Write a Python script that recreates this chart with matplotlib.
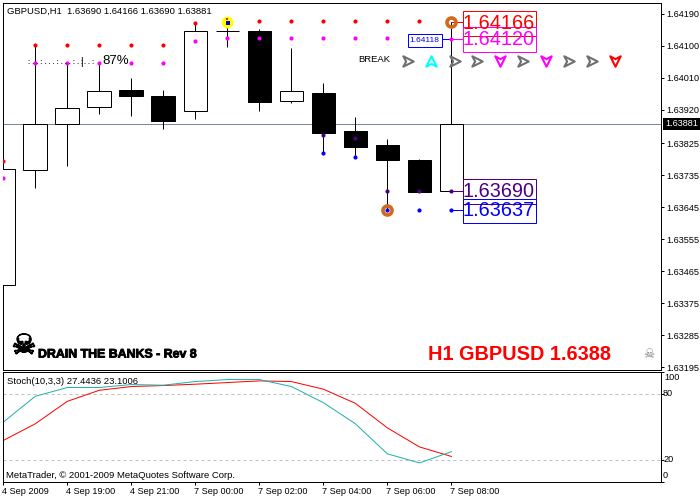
import matplotlib
matplotlib.use("Agg")
import matplotlib.pyplot as plt
import matplotlib.patheffects as pe
from matplotlib.path import Path

# candles: open, high, low, close (bar 0 is cut by the left edge)
bars = list(range(15))
opens = [1.63426, 1.63750, 1.63879, 1.63927, 1.63976, 1.63959, 1.63916, 1.64141,
         1.64142, 1.63944, 1.63967, 1.63860, 1.63821, 1.63779, 1.63690]
highs = [1.63759, 1.64103, 1.64052, 1.64052, 1.64010, 1.63976, 1.64165, 1.64167,
         1.64148, 1.64094, 1.63996, 1.63899, 1.63837, 1.63781, 1.64166]
lows = [1.63400, 1.63698, 1.63762, 1.63909, 1.63901, 1.63867, 1.63895, 1.64098,
        1.63917, 1.63940, 1.63798, 1.63787, 1.63638, 1.63688, 1.63690]
closes = [1.63753, 1.63879, 1.63925, 1.63972, 1.63959, 1.63889, 1.64141, 1.64141,
          1.63943, 1.63972, 1.63853, 1.63816, 1.63777, 1.63689, 1.63881]

# indicator dots
red_x = [0, 1, 2, 3, 4, 5, 6, 8, 9, 10, 11, 12, 13]
red_y = [1.63776, 1.64103, 1.64103, 1.64103, 1.64103, 1.64103, 1.64165, 1.64171,
         1.64171, 1.64171, 1.64171, 1.64171, 1.64171]
mag_x = [0, 1, 2, 3, 4, 5, 6, 7, 8, 9, 10, 11, 12, 13, 14]
mag_y = [1.63728, 1.64052, 1.64052, 1.64052, 1.64052, 1.64052, 1.64114, 1.64122,
         1.64122, 1.64122, 1.64122, 1.64122, 1.64122, 1.64122, 1.64120]
blue_x = [10, 11, 12, 13, 14]
blue_y = [1.63798, 1.63787, 1.63637, 1.63637, 1.63637]
purple_x = [10, 11, 12, 13, 14]
purple_y = [1.63850, 1.63839, 1.63690, 1.63690, 1.63690]

# arrows of the BREAK row
arrow_x = [12.65, 13.37, 14.12, 14.8, 15.52, 16.24, 16.96, 17.68, 18.4, 19.11]
arrow_col = ["#707070", "#00ffff", "#707070", "#707070", "#ff00ff",
             "#707070", "#ff00ff", "#707070", "#707070", "#ff0000"]
arrow_dir = ["r", "u", "r", "r", "d", "r", "d", "r", "r", "d"]
arrow_price = 1.64056

# stochastic
stoch_main = [54.2, 77.6, 85.5, 85.5, 88.2, 87.6, 90.9, 92.7, 92.7, 86.4, 71.8,
              52.7, 25.5, 17.3, 27.4]
stoch_signal = [37.6, 52.7, 73.0, 83.0, 86.4, 87.3, 88.5, 90.0, 91.5, 90.9, 84.0,
                71.2, 49.0, 31.8, 23.1]

price_ticks = [1.64190, 1.64100, 1.64010, 1.63920, 1.63825, 1.63735, 1.63645,
               1.63555, 1.63465, 1.63375, 1.63285, 1.63195]
time_ticks = [0, 2, 4, 6, 8, 10, 12, 14]
time_labels = ["4 Sep 2009", "4 Sep 19:00", "4 Sep 21:00", "7 Sep 00:00",
               "7 Sep 02:00", "7 Sep 04:00", "7 Sep 06:00", "7 Sep 08:00"]

W, H = 700, 500
LW = 0.72  # one pixel
plt.rcParams["font.family"] = "Liberation Sans"
plt.rcParams["font.size"] = 6.8


def box(x0, y0, x1, y1):
    return [x0 / W, 1 - y1 / H, (x1 - x0) / W, (y1 - y0) / H]


def ptext(x, y, s, **kw):
    kw.setdefault("va", "center")
    kw.setdefault("color", "black")
    return fig.text(x / W, 1 - y / H, s, **kw)


def prect(x0, y0, x1, y1, **kw):
    r = plt.Rectangle((x0 / W, 1 - y1 / H), (x1 - x0) / W, (y1 - y0) / H,
                      transform=fig.transFigure, clip_on=False, **kw)
    ax.add_patch(r)


fig = plt.figure(figsize=(7, 5), dpi=100, facecolor="white")
ax = fig.add_axes(box(3, 2.5, 661, 369.5))
ax2 = fig.add_axes(box(3, 371.5, 661, 482))
xlim = (-0.01, 20.55)

ax.axhline(closes[-1], color="#778899", lw=LW, zorder=1)
for i in bars:
    ax.plot([i, i], [lows[i], highs[i]], color="black", lw=LW, zorder=2, solid_capstyle="butt")
    lo, hi = sorted((opens[i], closes[i]))
    bull = closes[i] >= opens[i]
    ax.bar(i, hi - lo, 0.74, bottom=lo, facecolor="white" if bull else "black",
           edgecolor="black", lw=LW, zorder=3)

ax.plot(red_x, red_y, "o", color="#ff0000", ms=3, mew=0, zorder=5)
ax.plot(mag_x, mag_y, "o", color="#ff00ff", ms=3, mew=0, zorder=5)
ax.plot(blue_x, blue_y, "o", color="#0000ff", ms=3, mew=0, zorder=5)
ax.plot(purple_x, purple_y, "o", color="#4b0082", ms=3, mew=0, zorder=5)

# fractal circles and the smiley
ax.plot([14, 12], [1.64166, 1.63637], "o", mfc="none", mec="#d2691e", ms=6.5, mew=2.6, zorder=6)
ax.plot([7], [1.64167], "o", color="#ffff00", ms=8.5, mew=0, zorder=6)
ax.plot([7.03], [1.64165], "s", color="#0000cc", ms=2.6, mew=0, zorder=7)
ax.plot([6.98], [1.64176], "s", color="#cc3333", ms=1.5, mew=0, zorder=7)

# arrow glyphs
right = Path([(1, 0), (-1, 1), (-0.45, 0), (-1, -1), (1, 0)], closed=True)
up = Path([(0, 1), (1, -1), (0, -0.45), (-1, -1), (0, 1)], closed=True)
down = Path([(0, -1), (1, 1), (0, 0.45), (-1, 1), (0, -1)], closed=True)
shapes = {"r": right, "u": up, "d": down}
for x, c, d in zip(arrow_x, arrow_col, arrow_dir):
    ax.plot([x], [arrow_price], marker=shapes[d], ms=7.5, mfc="white", mec=c, mew=1.5,
            ls="none", zorder=6)

ax.set_xlim(*xlim)
ax.set_ylim(1.63188, 1.64222)
ax.yaxis.tick_right()
ax.set_yticks(price_ticks)
ax.set_yticklabels([f"{v:.5f}" for v in price_ticks])
ax.set_xticks([])
ax.tick_params(axis="y", length=2.2, width=LW, pad=1.5, labelsize=6.6)

# connector lines to the price boxes
ax.plot([14, 14.36], [1.64166, 1.64166], color="#ff0000", lw=LW, zorder=4)
ax.plot([14, 14.36], [1.64120, 1.64120], color="#ff00ff", lw=LW, zorder=4)
ax.plot([14, 14.36], [1.63690, 1.63690], color="#4b0082", lw=LW, zorder=4)
ax.plot([14, 14.36], [1.63637, 1.63637], color="#0000ff", lw=LW, zorder=4)
ax.plot([13.7, 14], [1.64118, 1.64118], color="#0000ff", lw=LW, zorder=4)

ax2.axhline(80, color="#c0c0c0", lw=LW, ls=(0, (3, 3)))
ax2.axhline(20, color="#c0c0c0", lw=LW, ls=(0, (3, 3)))
ax2.plot(bars, stoch_signal, color="#ff0000", lw=LW)
ax2.plot(bars, stoch_main, color="#20b2aa", lw=LW)
ax2.set_xlim(*xlim)
ax2.set_ylim(0, 100)
ax2.yaxis.tick_right()
ax2.set_yticks([0, 20, 80, 100])
ax2.set_yticklabels([])
ax2.set_xticks(time_ticks)
ax2.set_xticklabels([])
ax2.tick_params(axis="both", length=2.2, width=LW)

for a in (ax, ax2):
    for s in a.spines.values():
        s.set_linewidth(LW)

# time labels start at their tick
for t, s in zip(time_ticks, time_labels):
    x = ax2.transData.transform((t, 0))[0]
    ptext(x - 1 if t else 2, 491.5, s, fontsize=6.6)
for s, x, y in [("100", 664, 378), ("80", 663, 393.5), ("20", 663, 459.5), ("0", 663, 475.5)]:
    ptext(x, y, s, fontsize=6.6)

# tag for the current price
prect(663, 118.5, 699.5, 129.5, fc="black", ec="black", lw=0, zorder=8)
ptext(681.5, 124, "1.63881", color="white", ha="center", fontsize=6.6, zorder=9)

ptext(7, 11, "GBPUSD,H1  1.63690 1.64166 1.63690 1.63881")
ptext(7, 381.5, "Stoch(10,3,3) 27.4436 23.1006")
ptext(6, 475, "MetaTrader, \u00a9 2001-2009 MetaQuotes Software Corp.")
ptext(358, 60, "BREAK")
ptext(28, 62, ": . . : . . . : . . . : . :", fontsize=5, weight="bold")
ptext(80, 62, "|", fontsize=7.5)
ptext(84, 62, ". . :", fontsize=5, weight="bold")
ptext(102, 61, "87%", fontsize=9.5)

for s, c, y0 in [("1.64166", "#ff0000", 11.5), ("1.64120", "#ff00ff", 27.5),
                 ("1.63690", "#4b0082", 179.5), ("1.63637", "#0000ff", 198.5)]:
    prect(462.5, y0, 535.5, y0 + 24, fc="none", ec=c, lw=LW, zorder=8)
    ptext(499, y0 + 12, s, color=c, fontsize=14.3, ha="center", zorder=9)
prect(407.5, 34.5, 441.5, 46.5, fc="white", ec="#0000ff", lw=LW, zorder=8)
ptext(424.5, 40.5, "1.64118", color="#0000ff", fontsize=6, ha="center", zorder=9)

thick = [pe.withStroke(linewidth=0.8, foreground="black")]
ptext(24, 346, "\u2620", family="DejaVu Sans", fontsize=20, ha="center", path_effects=thick)
ptext(38, 354.5, "DRAIN THE BANKS - Rev 8", weight="bold", fontsize=8.9,
      path_effects=[pe.withStroke(linewidth=0.6, foreground="black")])
ptext(428, 354, "H1 GBPUSD 1.6388", weight="bold", fontsize=14.3, color="#ff0000")
ptext(649, 354, "\u2620", family="DejaVu Sans", fontsize=9, color="#808080", ha="center")

fig.savefig("out.png", dpi=100)
